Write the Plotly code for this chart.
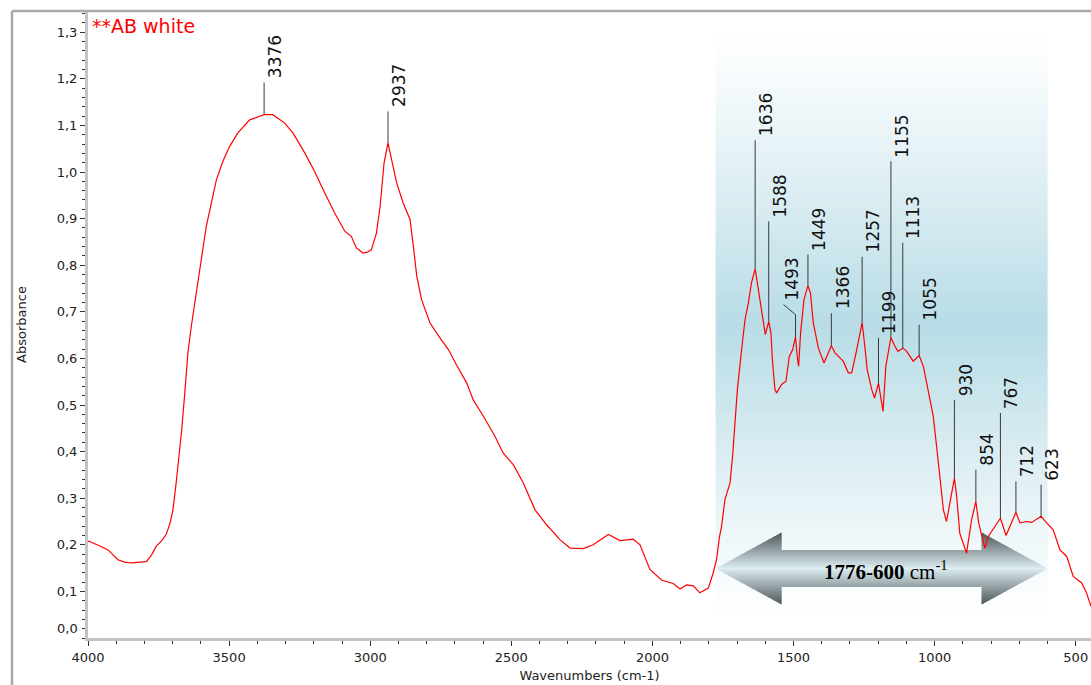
import numpy as np
import plotly.graph_objects as go

# ---------------- data ----------------
# FTIR absorbance spectrum, wavenumber (cm-1) descending
wavenumber = [
    4000, 3994, 3960, 3929, 3894, 3870, 3847, 3820, 3793, 3775, 3758, 3740, 3723, 3710,
    3699, 3690, 3681, 3669, 3657, 3646, 3634, 3616, 3599, 3581, 3563, 3545, 3522, 3498,
    3469, 3427, 3376, 3345, 3303, 3274, 3232, 3197, 3161, 3126, 3090, 3067, 3049, 3026,
    3010, 2996, 2978, 2965, 2951, 2937, 2924, 2906, 2883, 2859, 2847, 2835, 2818, 2788,
    2753, 2723, 2694, 2658, 2635, 2599, 2558, 2529, 2493, 2458, 2416, 2375, 2328, 2292,
    2245, 2210, 2156, 2115, 2068, 2044, 2009, 1967, 1926, 1902, 1879, 1855, 1832, 1802,
    1785, 1773, 1763, 1755, 1743, 1725, 1716, 1708, 1699, 1684, 1672, 1660, 1649, 1636,
    1628, 1618, 1610, 1600, 1588, 1580, 1575, 1566, 1560, 1542, 1527, 1515, 1503, 1493,
    1487, 1482, 1475, 1463, 1449, 1440, 1430, 1412, 1392, 1383, 1366, 1353, 1324, 1306,
    1294, 1276, 1257, 1250, 1239, 1223, 1213, 1199, 1193, 1183, 1173, 1155, 1141, 1130,
    1113, 1099, 1076, 1055, 1040, 1023, 1005, 993, 981, 969, 958, 942, 930, 922,
    911, 887, 869, 854, 844, 834, 822, 810, 786, 767, 747, 733, 712, 698,
    674, 656, 623, 603, 580, 556, 532, 509, 479, 462, 446,
]
absorbance = [
    0.208, 0.207, 0.198, 0.189, 0.168, 0.163, 0.161, 0.162, 0.164, 0.178, 0.197, 0.208, 0.222, 0.245,
    0.275, 0.320, 0.368, 0.440, 0.526, 0.612, 0.669, 0.740, 0.812, 0.883, 0.933, 0.983, 1.023, 1.055,
    1.084, 1.112, 1.123, 1.123, 1.105, 1.084, 1.041, 1.001, 0.955, 0.912, 0.873, 0.862, 0.837, 0.826,
    0.828, 0.833, 0.869, 0.926, 1.019, 1.062, 1.026, 0.976, 0.933, 0.898, 0.840, 0.776, 0.726, 0.676,
    0.644, 0.619, 0.586, 0.547, 0.511, 0.476, 0.433, 0.397, 0.372, 0.333, 0.275, 0.243, 0.211, 0.193,
    0.192, 0.200, 0.222, 0.209, 0.212, 0.200, 0.147, 0.124, 0.117, 0.105, 0.114, 0.112, 0.097, 0.107,
    0.139, 0.168, 0.215, 0.240, 0.297, 0.333, 0.390, 0.461, 0.533, 0.619, 0.683, 0.719, 0.762, 0.792,
    0.762, 0.719, 0.690, 0.651, 0.679, 0.655, 0.597, 0.533, 0.526, 0.544, 0.551, 0.604, 0.619, 0.646,
    0.604, 0.583, 0.655, 0.726, 0.756, 0.740, 0.676, 0.622, 0.590, 0.604, 0.627, 0.612, 0.594, 0.569,
    0.569, 0.619, 0.677, 0.640, 0.576, 0.533, 0.515, 0.547, 0.526, 0.486, 0.583, 0.645, 0.626, 0.615,
    0.622, 0.615, 0.594, 0.606, 0.583, 0.533, 0.476, 0.411, 0.340, 0.275, 0.250, 0.304, 0.343, 0.304,
    0.225, 0.182, 0.254, 0.293, 0.247, 0.222, 0.193, 0.218, 0.240, 0.257, 0.220, 0.240, 0.270, 0.247,
    0.250, 0.248, 0.261, 0.247, 0.232, 0.189, 0.175, 0.132, 0.118, 0.097, 0.068,
]

# labelled band positions and the height (absorbance units) of each label stem
peak_labels = [3376, 2937, 1636, 1588, 1493, 1449, 1366, 1257, 1199, 1155, 1113, 1055, 930, 854, 767, 712, 623]
stem_tops = [1.192, 1.130, 1.068, 0.894, 0.694, 0.823, 0.697, 0.818, 0.644, 1.023, 0.848, 0.672,
             0.511, 0.361, 0.483, 0.336, 0.329]

region = [1776, 600]          # fingerprint window, cm-1
sample_name = "**AB white"

x_tick_vals = [4000, 3500, 3000, 2500, 2000, 1500, 1000, 500]
y_tick_vals = [0.1, 0.2, 0.3, 0.4, 0.5, 0.6, 0.7, 0.8, 0.9, 1.0, 1.1, 1.2, 1.3]

# ---------------- geometry ----------------
W, H = 1091, 685
L, R, T, B = 88, 0, 11, 47
X_RANGE = [4000, 446]
Y_RANGE = [0, 1.3455]
PW, PH = W - L - R, H - T - B
px_per_wn = PW / (X_RANGE[0] - X_RANGE[1])
px_per_abs = PH / (Y_RANGE[1] - Y_RANGE[0])


def paper_x(px):
    return (px - L) / PW


def paper_y(py):
    return (H - B - py) / PH


def mix(c0, c1, t):
    t = min(max(t, 0.0), 1.0)
    r, g, b = (round(a + (bb - a) * t) for a, bb in zip(c0, c1))
    return f"rgb({r},{g},{b})"


FONT = "DejaVu Sans"
shapes = []

# ---- vertical blue gradient behind the fingerprint window ----
band_bot, band_top = 0.039, 1.305
band_mid = (band_bot + band_top) / 2
half = (band_top - band_bot) / 2
n_band = 110
edges = np.linspace(band_bot, band_top, n_band + 1)
step = edges[1] - edges[0]
for i in range(n_band):
    yc_ = (edges[i] + edges[i + 1]) / 2
    f = 1 - abs(yc_ - band_mid) / half
    f = f ** 1.15
    shapes.append(dict(
        type="rect", xref="x", yref="y", layer="below",
        x0=region[0], x1=region[1], y0=edges[i], y1=min(edges[i + 1] + step * 0.4, band_top),
        fillcolor=mix((255, 255, 255), (184, 220, 230), f), line=dict(width=0),
    ))

# ---- double-headed shaded arrow across the window ----
arrow_y = 0.149
shaft_h = 18 / px_per_abs
head_h = 36 / px_per_abs
head_len = 66 / px_per_wn
x_l, x_r = region
light, dark = (220, 237, 242), (78, 86, 88)
n_half = 24
d_edges = np.linspace(0, head_h, n_half + 1)
for sgn in (1, -1):
    for i in range(n_half):
        d0, d1 = d_edges[i], d_edges[i + 1]
        col = mix(light, dark, ((d0 + d1) / 2) / head_h)
        d1e = min(d1 + (d1 - d0) * 0.3, head_h)
        ya, yb = arrow_y + sgn * d0, arrow_y + sgn * d1e
        xl0, xl1 = x_l - head_len * d0 / head_h, x_l - head_len * d1e / head_h
        xr0, xr1 = x_r + head_len * d0 / head_h, x_r + head_len * d1e / head_h
        if d1 <= shaft_h + 1e-9:
            paths = [f"M {xl0},{ya} L {xl1},{yb} L {xr1},{yb} L {xr0},{ya} Z"]
        else:
            xb_l, xb_r = x_l - head_len, x_r + head_len
            paths = [f"M {xl0},{ya} L {xl1},{yb} L {xb_l},{yb} L {xb_l},{ya} Z",
                     f"M {xr0},{ya} L {xr1},{yb} L {xb_r},{yb} L {xb_r},{ya} Z"]
        for p in paths:
            shapes.append(dict(type="path", xref="x", yref="y", layer="below", path=p,
                               fillcolor=col, line=dict(width=0)))

# ---- outer frame ----
frame_col = "#a9a9a9"
shapes.append(dict(type="line", xref="paper", yref="paper", layer="above",
                   x0=paper_x(12), x1=paper_x(12), y0=paper_y(11), y1=paper_y(H + 2),
                   line=dict(color=frame_col, width=2.5)))
shapes.append(dict(type="line", xref="paper", yref="paper", layer="above",
                   x0=paper_x(12), x1=paper_x(W + 2), y0=paper_y(11), y1=paper_y(11),
                   line=dict(color=frame_col, width=2.5)))

# ---------------- traces ----------------
fig = go.Figure()

fig.add_trace(go.Scatter(
    x=wavenumber, y=absorbance, mode="lines",
    line=dict(color="#ff0000", width=1.2), hoverinfo="x+y", showlegend=False,
))

# label stems: from the curve up to the label
wn_asc = np.array(wavenumber[::-1], dtype=float)
ab_asc = np.array(absorbance[::-1], dtype=float)
bends = {1493: (-12, 10)}  # (dx px, dy px) kink at top of the stem
stem_x, stem_y = [], []
annotations = []
for wn, top in zip(peak_labels, stem_tops):
    y0 = float(np.interp(wn, wn_asc, ab_asc))
    stem_x += [wn, wn]
    stem_y += [y0, top]
    text_bottom = top
    xshift = 11
    if wn in bends:
        dx, dy = bends[wn]
        stem_x.append(wn - dx / px_per_wn)
        text_bottom = top + dy / px_per_abs
        stem_y.append(text_bottom)
        xshift = -3
    stem_x.append(None)
    stem_y.append(None)
    annotations.append(dict(
        x=wn, y=text_bottom, xref="x", yref="y", text=str(wn), showarrow=False,
        textangle=-90, xanchor="center", yanchor="bottom", xshift=xshift, yshift=2,
        font=dict(family=FONT, size=17, color="#111111"),
    ))

fig.add_trace(go.Scatter(
    x=stem_x, y=stem_y, mode="lines", line=dict(color="#3a3a3a", width=1),
    hoverinfo="skip", showlegend=False,
))

# ---------------- text ----------------
annotations += [
    dict(x=paper_x(90), y=paper_y(26), xref="paper", yref="paper", text=sample_name,
         showarrow=False, xanchor="left", yanchor="middle",
         font=dict(family=FONT, size=19, color="#ff0000")),
    dict(x=paper_x(80), y=paper_y(628), xref="paper", yref="paper", text="0,0",
         showarrow=False, xanchor="right", yanchor="middle",
         font=dict(family=FONT, size=13, color="#222222")),
    dict(x=(region[0] + region[1]) / 2, y=arrow_y, xref="x", yref="y", xshift=4, yshift=-2,
         text=f"<b>{region[0]}-{region[1]}</b> cm<sup>-1</sup>", showarrow=False,
         xanchor="center", yanchor="middle",
         font=dict(family="Liberation Serif", size=21, color="#000000")),
]

y_tick_text = [f"{v:.1f}".replace(".", ",") for v in y_tick_vals]

fig.update_layout(
    width=W, height=H,
    margin=dict(l=L, r=R, t=T, b=B, pad=0),
    paper_bgcolor="white", plot_bgcolor="white",
    shapes=shapes, annotations=annotations, showlegend=False,
    xaxis=dict(
        range=X_RANGE, showgrid=False, zeroline=False, automargin=False,
        showline=True, linecolor="#c4c4c4", linewidth=3,
        tickmode="array", tickvals=x_tick_vals, ticktext=[str(v) for v in x_tick_vals],
        ticks="outside", ticklen=5, tickwidth=1, tickcolor="#333333",
        tickfont=dict(family=FONT, size=13, color="#222222"),
        minor=dict(tickmode="array", tickvals=list(range(4000, 445, -100)),
                   ticks="outside", ticklen=3, tickwidth=1, tickcolor="#333333"),
        title=dict(text="Wavenumbers (cm-1)", standoff=8,
                   font=dict(family=FONT, size=13, color="#222222")),
    ),
    yaxis=dict(
        range=Y_RANGE, showgrid=False, zeroline=False, automargin=False,
        showline=True, linecolor="#c4c4c4", linewidth=3,
        tickmode="array", tickvals=y_tick_vals, ticktext=y_tick_text,
        ticks="outside", ticklen=5, tickwidth=1, tickcolor="#333333",
        tickfont=dict(family=FONT, size=13, color="#222222"),
        minor=dict(tickmode="array", tickvals=[round(0.02 * k, 2) for k in range(0, 68)],
                   ticks="outside", ticklen=3, tickwidth=1, tickcolor="#333333"),
        title=dict(text="Absorbance", standoff=28,
                   font=dict(family=FONT, size=13, color="#222222")),
    ),
)

fig.write_html("out.html")
